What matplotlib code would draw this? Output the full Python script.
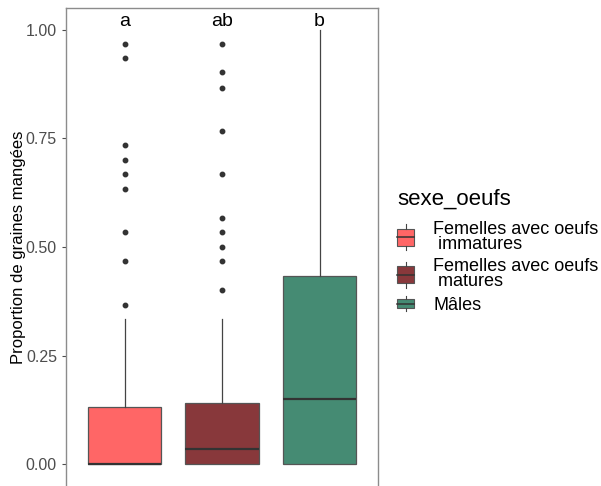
import matplotlib
matplotlib.use("Agg")
import matplotlib.pyplot as plt
from matplotlib.legend_handler import HandlerBase
from matplotlib.patches import Rectangle
from matplotlib.lines import Line2D

plt.rcParams['font.family'] = ['Liberation Sans', 'DejaVu Sans']

groups = ["Femelles avec oeufs\n immatures", "Femelles avec oeufs\n matures", "Mâles"]
colors = ["#FF6666", "#88383B", "#458B73"]
letters = ["a", "ab", "b"]

# box statistics
q1 = [0.0, 0.0, 0.0]
med = [0.0, 0.035, 0.151]
q3 = [0.132, 0.140, 0.434]
wlo = [0.0, 0.0, 0.0]
whi = [0.334, 0.334, 1.0]
outliers = [
    [0.968, 0.935, 0.734, 0.700, 0.668, 0.633, 0.535, 0.467, 0.366],
    [0.968, 0.902, 0.867, 0.767, 0.668, 0.567, 0.535, 0.500, 0.467, 0.402],
    [],
]

fig = plt.figure(figsize=(6.01, 4.86), dpi=100)
ax = fig.add_axes([66 / 601, 0.0, 312 / 601, 478 / 486])

stats = []
for i in range(3):
    stats.append(dict(med=med[i], q1=q1[i], q3=q3[i], whislo=wlo[i], whishi=whi[i],
                      fliers=outliers[i], label=str(i)))

bp = ax.bxp(stats, positions=[1, 2, 3], widths=0.75, patch_artist=True,
            showcaps=False,
            boxprops=dict(edgecolor="#555555", linewidth=0.9),
            medianprops=dict(color="#333333", linewidth=1.6),
            whiskerprops=dict(color="#444444", linewidth=0.9),
            flierprops=dict(marker="o", markerfacecolor="#333333", markeredgecolor="#333333",
                            markersize=3.2, linestyle="none"))
for patch, c in zip(bp["boxes"], colors):
    patch.set_facecolor(c)

for i, lt in enumerate(letters):
    ax.text(i + 1, 1.0, lt, ha="center", va="bottom", fontsize=14, color="black")

ax.set_xlim(0.4, 3.6)
ax.set_ylim(-0.05, 1.05)
ax.set_xticks([])
ax.set_yticks([0, 0.25, 0.5, 0.75, 1.0])
ax.set_yticklabels(["0.00", "0.25", "0.50", "0.75", "1.00"])
ax.tick_params(axis="y", colors="#4d4d4d", labelsize=11.5, length=3, width=0.8)
for s in ["left", "top", "right"]:
    ax.spines[s].set_color("#8c8c8c")
    ax.spines[s].set_linewidth(1.0)
ax.spines["bottom"].set_visible(False)
ax.set_ylabel("Proportion de graines mangées", fontsize=12, color="black", labelpad=0)


class BoxHandler(HandlerBase):
    def create_artists(self, legend, orig_handle, xdescent, ydescent, width, height, fontsize, trans):
        c = orig_handle.get_facecolor()
        nlines = int(orig_handle.get_gid())
        h = height * (1.65 if nlines == 2 else 0.95)
        y0 = -ydescent + (height - h) / 2
        rect = Rectangle((-xdescent, y0 + h * 0.17), width, h * 0.66, facecolor=c,
                         edgecolor="#555555", linewidth=0.8, transform=trans)
        mid = Line2D([-xdescent, -xdescent + width], [y0 + h / 2] * 2, color="#333333",
                     linewidth=1.1, transform=trans)
        w1 = Line2D([-xdescent + width / 2] * 2, [y0, y0 + h * 0.17], color="#444444",
                    linewidth=0.8, transform=trans)
        w2 = Line2D([-xdescent + width / 2] * 2, [y0 + h * 0.83, y0 + h], color="#444444",
                    linewidth=0.8, transform=trans)
        return [rect, mid, w1, w2]


handles = []
for g, c in zip(groups, colors):
    r = Rectangle((0, 0), 1, 1, facecolor=c)
    r.set_gid(str(g.count("\n") + 1))
    handles.append(r)
leg = fig.legend(handles, groups, handler_map={Rectangle: BoxHandler()},
                 loc="upper left", bbox_to_anchor=(390 / 601, 1 - 181 / 486),
                 frameon=False, title="sexe_oeufs", title_fontsize=16, fontsize=13,
                 handlelength=0.95, handleheight=0.95, handletextpad=1.05,
                 labelspacing=0.3, borderaxespad=0)
leg._legend_box.align = "left"
leg._legend_box.sep = 0.3 * 13 + 4.5
for t in leg.get_texts():
    t.set_linespacing(0.85)

fig.savefig("out.png", dpi=100)
